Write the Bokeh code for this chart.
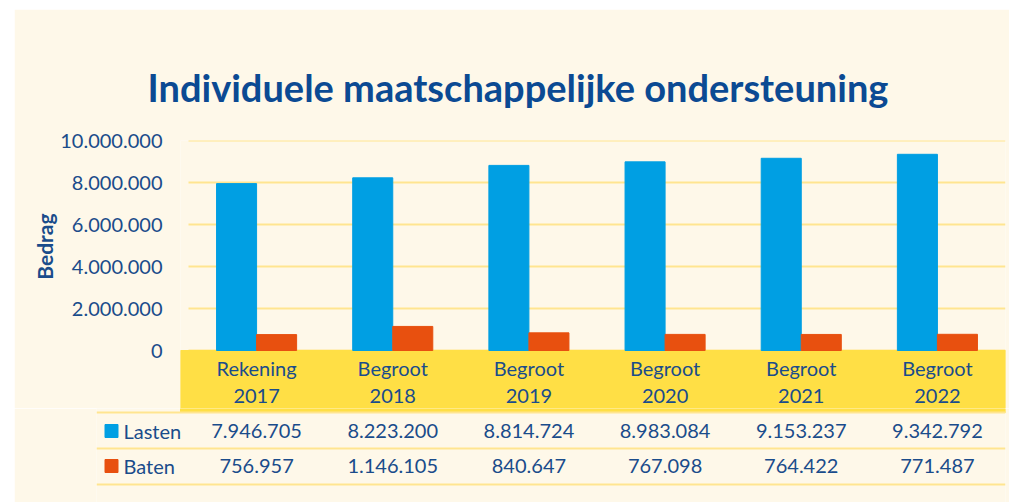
import numpy as np
from bokeh.plotting import figure
from bokeh.layouts import column
from bokeh.models import Range1d, FixedTicker, Title
from bokeh.core.properties import value
from bokeh.embed import file_html
from bokeh.resources import INLINE

# ---- data ----
cat_line1 = ["Rekening", "Begroot", "Begroot", "Begroot", "Begroot", "Begroot"]
cat_line2 = ["2017", "2018", "2019", "2020", "2021", "2022"]
lasten = [7946705, 8223200, 8814724, 8983084, 9153237, 9342792]
baten = [756957, 1146105, 840647, 767098, 764422, 771487]
series_names = ["Lasten", "Baten"]
y_ticks = [0, 2000000, 4000000, 6000000, 8000000, 10000000]
y_tick_labels = ["0", "2.000.000", "4.000.000", "6.000.000", "8.000.000", "10.000.000"]
title_text = "Individuele maatschappelijke ondersteuning"
y_label = "Bedrag"

# ---- style ----
CREAM = "#FEF8E9"
YELLOW = "#FFDF45"
GRID = "#FFE590"
BLUE = "#009FE3"
ORANGE = "#E8500F"
TEXT = "#1A4C8B"
TITLE = "#0B4A93"
FONT = "Lato"
FS = "20px"

def fmt(v):
    return f"{v:,}".replace(",", ".")

n = len(cat_line2)
xc = np.arange(n) + 0.5
bw = 0.294

# layout constants (pixels)
PAGE_L, PAGE_T = 14, 9
FRAME_R = 1005
CAT_L = 188          # left edge of first category
BAND_L = 180         # left edge of yellow band
TABLE_L = 96         # left edge of table lines
GRID_T, ZERO_Y = 140, 350
SPLIT = 408          # where the table figure starts
W = 1009 - PAGE_L
ppu = (FRAME_R - CAT_L) / n
ypp = 10000000 / (ZERO_Y - GRID_T)

def ypx(py):
    """page pixel row -> top-chart data value"""
    return (ZERO_Y - py) * ypp

# ---- top chart ----
top_h = SPLIT - PAGE_T
band_left = -(CAT_L - BAND_L) / ppu
top = figure(width=W, height=top_h, output_backend="svg", toolbar_location=None,
             x_range=Range1d(band_left, n),
             y_range=Range1d(ypx(SPLIT), 10000000),
             min_border_left=BAND_L - PAGE_L, min_border_right=1009 - FRAME_R,
             min_border_top=GRID_T - PAGE_T, min_border_bottom=0, frame_align=False)
top.margin = (PAGE_T, 0, 0, PAGE_L)
top.background_fill_color = CREAM
top.border_fill_color = CREAM
top.outline_line_color = None
top.xaxis.visible = False
top.grid.visible = False
top.yaxis.ticker = FixedTicker(ticks=y_ticks)
top.yaxis.major_label_overrides = {t: l for t, l in zip(y_ticks, y_tick_labels)}
top.yaxis.axis_line_color = None
top.yaxis.major_tick_line_color = None
top.yaxis.minor_tick_line_color = None
top.yaxis.major_label_standoff = 12
top.yaxis.major_label_text_font = FONT
top.yaxis.major_label_text_font_size = FS
top.yaxis.major_label_text_color = TEXT

# gridlines (from the tick values)
top.segment(x0=[0] * len(y_ticks), x1=[n] * len(y_ticks), y0=y_ticks, y1=y_ticks,
            line_color=GRID, line_width=2)
# yellow category band
top.quad(left=band_left, right=n, top=0, bottom=ypx(SPLIT), color=YELLOW)

top.vbar(x=xc - bw / 2, top=lasten, width=bw, bottom=0, color=BLUE)
top.vbar(x=xc + bw / 2, top=baten, width=bw, bottom=0, color=ORANGE)

top.text(x=xc, y=[ypx(367)] * n, text=cat_line1, text_align="center", text_baseline="middle",
         text_font=value(FONT), text_font_size=FS, text_color=TEXT)
top.text(x=xc, y=[ypx(395)] * n, text=cat_line2, text_align="center", text_baseline="middle",
         text_font=value(FONT), text_font_size=FS, text_color=TEXT)

t = Title(text=title_text, align="left", offset=147 - BAND_L, standoff=62,
          text_font=FONT, text_font_style="bold", text_font_size="38px", text_color=TITLE)
top.add_layout(t, "above")

yl = Title(text=y_label, align="right", offset=213 - GRID_T, standoff=0, vertical_align="middle",
           text_font=FONT, text_font_style="bold", text_font_size="21px", text_color=TEXT)
top.add_layout(yl, "left")

# ---- table ----
bot_h = 502 - SPLIT
xstart = -(CAT_L - TABLE_L) / ppu
bot = figure(width=W, height=bot_h, output_backend="svg", toolbar_location=None,
             x_range=Range1d(xstart, n), y_range=Range1d(bot_h, 0),
             min_border_left=TABLE_L - PAGE_L, min_border_right=1009 - FRAME_R,
             min_border_top=0, min_border_bottom=0, frame_align=False)
bot.margin = (0, 0, 0, PAGE_L)
bot.background_fill_color = CREAM
bot.border_fill_color = CREAM
bot.outline_line_color = None
bot.axis.visible = False
bot.grid.visible = False

bot.quad(left=band_left, right=n, top=0, bottom=412 - SPLIT, color=YELLOW)
for ly in [412, 448, 484]:
    bot.segment(x0=xstart, x1=n, y0=ly - SPLIT, y1=ly - SPLIT, line_color=GRID, line_width=2)

rows = [lasten, baten]
row_y = [430.5 - SPLIT, 465.5 - SPLIT]
colors = [BLUE, ORANGE]
for vals, ry, nm, col in zip(rows, row_y, series_names, colors):
    bot.text(x=xc, y=[ry] * n, text=[fmt(v) for v in vals], text_align="center",
             text_baseline="middle", text_font=value(FONT), text_font_size=FS, text_color=TEXT)
    bot.scatter(x=[xstart + (111 - TABLE_L) / ppu], y=[ry], marker="square", size=13, color=col)
    bot.text(x=[xstart + (123 - TABLE_L) / ppu], y=[ry], text=[nm], text_align="left",
             text_baseline="middle", text_font=value(FONT), text_font_size=FS, text_color=TEXT)

layout = column(top, bot, spacing=0)
open("out.html", "w").write(file_html(layout, INLINE))
